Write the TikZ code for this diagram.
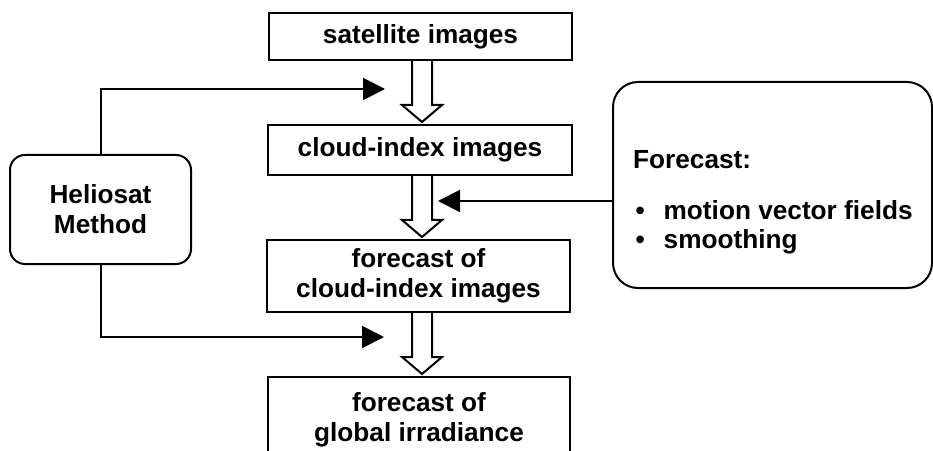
\documentclass[tikz,border=0pt]{standalone}
\usepackage{fontspec}
\setmainfont{Liberation Sans}
\usetikzlibrary{arrows.meta,calc}
\tikzset{
  caja/.style={draw, line width=2pt, inner sep=0pt, align=center,
    font=\bfseries\fontsize{26.2}{30}\selectfont},
  texto/.style={inner sep=0pt, anchor=base west,
    font=\bfseries\fontsize{26.2}{30}\selectfont},
  flecha/.style={line width=2pt, -{Triangle[length=22pt,width=22pt]}},
  hueca/.style={line width=2pt, line join=miter},
}
% flecha hueca entre dos cajas
\newcommand{\flechahueca}[2]{%
  \draw[hueca] ($(eje |- #1.south)+(-10,0)$) -- ($(eje |- #2.north)+(-10,19)$)
    -- ($(eje |- #2.north)+(-20,19)$) -- ($(eje |- #2.north)+(0,2)$)
    -- ($(eje |- #2.north)+(20,19)$) -- ($(eje |- #2.north)+(10,19)$)
    -- ($(eje |- #1.south)+(10,0)$);}
\begin{document}
\begin{tikzpicture}[x=1pt,y=1pt]
    \useasboundingbox (0,0) rectangle (933,450);
    % Cajas de la columna central
    \node[caja, minimum width=303pt, minimum height=47pt] (sat) at (420.5,413.5) {satellite images};
    \node[caja, minimum width=304pt, minimum height=50pt] (nube) at (420,300) {cloud-index images};
    \node[caja, minimum width=303pt, minimum height=72pt] (pronube) at (418.5,174) {forecast of\\cloud-index images};
    \node[caja, minimum width=302pt, minimum height=86pt] (irrad) at (419,30) {forecast of\\global irradiance};
    % Cajas laterales redondeadas
    \node[caja, rounded corners=15pt, minimum width=181pt, minimum height=109pt] (helio) at (100.5,240.5) {Heliosat\\Method};
    \node[caja, rounded corners=25pt, minimum width=319pt, minimum height=206pt] (pron) at (772.5,265) {};
    \node[texto] (tit) at (633,281) {Forecast:};
    \node[texto] (item1) at (635.5,230) {\makebox[28pt][l]{\textbullet}motion vector fields};
    \node[texto] (item2) at (635.5,201) {\makebox[28pt][l]{\textbullet}smoothing};
    % Flechas huecas
    \coordinate (eje) at (422,0);
    \flechahueca{sat}{nube}
    \flechahueca{nube}{pronube}
    \flechahueca{pronube}{irrad}
    % Flechas negras
    \coordinate (ent1) at (385,361);
    \coordinate (ent2) at (438,249);
    \coordinate (ent3) at (384,113);
    \draw[flecha] (helio.north) |- (ent1);
    \draw[flecha] (helio.south) |- (ent3);
    \draw[flecha] (pron.west |- ent2) -- (ent2);
\end{tikzpicture}
\end{document}
